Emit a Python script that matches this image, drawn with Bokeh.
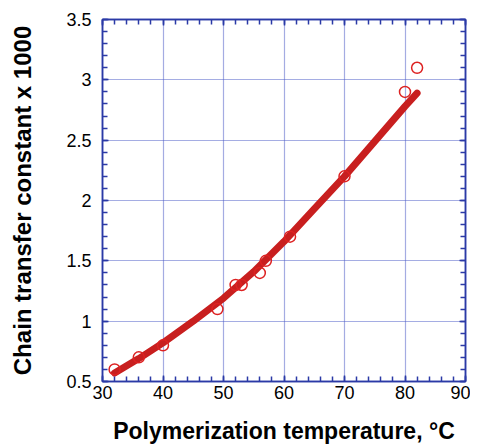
from bokeh.plotting import figure
from bokeh.models import LinearAxis, Range1d, SingleIntervalTicker
from bokeh.embed import file_html
from bokeh.resources import INLINE

# measured data (temperature, chain transfer constant x 1000)
temp_pts = [32, 36, 40, 49, 52, 53, 56, 57, 61, 70, 80, 82]
ctc_pts = [0.60, 0.70, 0.80, 1.10, 1.30, 1.30, 1.40, 1.50, 1.70, 2.20, 2.90, 3.10]

# fitted curve
temp_fit = [32, 36, 40, 45, 50, 55, 60, 65, 70, 75, 80, 82]
ctc_fit = [0.57, 0.69, 0.82, 1.00, 1.19, 1.41, 1.66, 1.93, 2.20, 2.49, 2.78, 2.89]

x_ticks = [30, 40, 50, 60, 70, 80, 90]
y_ticks = [0.5, 1, 1.5, 2, 2.5, 3, 3.5]

BLUE = "#2b3aa6"
GRID = "#4b5bc6"
RED = "#c81f1f"

p = figure(frame_width=363, frame_height=362, output_backend="svg", toolbar_location=None,
           x_range=Range1d(x_ticks[0], x_ticks[-1]), y_range=Range1d(y_ticks[0], y_ticks[-1]),
           min_border_left=102, min_border_top=19, min_border_right=5, min_border_bottom=5,
           x_axis_label="Polymerization temperature, °C",
           y_axis_label="Chain transfer constant x 1000")
p.background_fill_color = "white"
p.border_fill_color = "white"
p.outline_line_color = BLUE
p.outline_line_width = 1.5


def style_ticks(ax):
    ax.axis_line_color = BLUE
    ax.axis_line_width = 1.5
    ax.major_tick_line_color = BLUE
    ax.minor_tick_line_color = BLUE
    ax.major_tick_in = 6
    ax.major_tick_out = 0
    ax.minor_tick_in = 5
    ax.minor_tick_out = 0
    ax.minor_tick_line_width = 1.5
    ax.major_tick_line_width = 1.5


for ax, dim in ((p.xaxis[0], 0), (p.yaxis[0], 1)):
    ax.ticker = SingleIntervalTicker(interval=10 if dim == 0 else 0.5, num_minor_ticks=5)
    style_ticks(ax)
    ax.major_label_text_font = "Liberation Sans"
    ax.major_label_text_font_size = "18px"
    ax.major_label_text_color = "black"
    ax.axis_label_text_font = "Liberation Sans"
    ax.axis_label_text_font_size = "23px"
    ax.axis_label_text_font_style = "bold"
    ax.axis_label_text_color = "black"

p.yaxis[0].axis_label_text_font_size = "24px"
p.xaxis[0].major_label_standoff = 4
p.xaxis[0].axis_label_standoff = 16
p.yaxis[0].major_label_standoff = 11
p.yaxis[0].axis_label_standoff = 27

for side, dim in (("right", 1), ("above", 0)):
    ax = LinearAxis(ticker=SingleIntervalTicker(interval=10 if dim == 0 else 0.5, num_minor_ticks=5))
    style_ticks(ax)
    ax.major_label_text_font_size = "0px"
    ax.major_label_text_alpha = 0
    ax.major_label_standoff = 0
    p.add_layout(ax, side)

for g in (p.xgrid[0], p.ygrid[0]):
    g.grid_line_color = GRID
    g.grid_line_dash = "1 1"
    g.grid_line_width = 1.2

p.line(temp_fit, ctc_fit, line_color=RED, line_width=7, line_cap="round")
p.scatter(temp_pts, ctc_pts, marker="circle", size=11, fill_color=None,
          line_color="#dd2222", line_width=1.5)

open("out.html", "w").write(file_html(p, INLINE))
